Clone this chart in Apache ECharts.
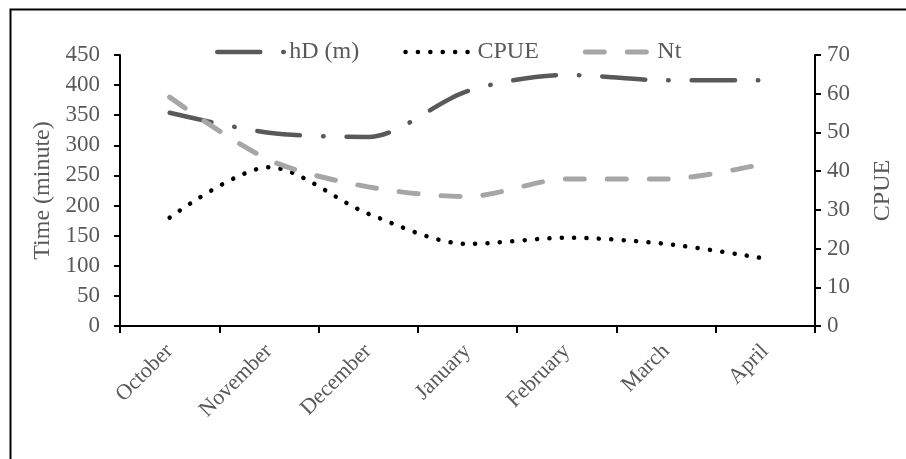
<!DOCTYPE html>
<html>
<head>
<meta charset="utf-8">
<script src="https://cdn.jsdelivr.net/npm/echarts@6/dist/echarts.min.js"></script>
<style>
html,body{margin:0;padding:0;background:#fff;}
#c{width:906px;height:459px;}
</style>
</head>
<body>
<div id="c"></div>
<script>
var months = ['October','November','December','January','February','March','April'];
var hD = [354, 321, 314, 390, 417, 408, 408];
var cpue = [28, 41, 29, 21.2, 22.8, 21.2, 17.4];
var nt = [380, 276, 231, 215, 244, 244, 270];
var leftTicks = {min: 0, max: 450, interval: 50};
var rightTicks = {min: 0, max: 70, interval: 10};

var FONT = 'Liberation Serif';
var TXT = '#595959';
var chart = echarts.init(document.getElementById('c'), null, {renderer: 'canvas'});
chart.setOption({
  animation: false,
  backgroundColor: '#fff',
  textStyle: {fontFamily: FONT},
  graphic: [{
    type: 'rect', left: 8, top: 7, z: 100, silent: true,
    shape: {x: 0, y: 0, width: 2000, height: 2000},
    style: {fill: 'none', stroke: '#000', lineWidth: 2}
  }],
  legend: {
    left: 210, top: 35, itemWidth: 67, itemHeight: 10, itemGap: 44,
    itemStyle: {opacity: 0},
    textStyle: {fontFamily: FONT, fontSize: 24, color: TXT},
    data: [
      {name: 'hD (m)', lineStyle: {width: 4.5}},
      {name: 'CPUE', lineStyle: {width: 4.5}},
      {name: 'Nt', lineStyle: {width: 5}}
    ]
  },
  grid: {left: 120, right: 91, top: 55, bottom: 133},
  xAxis: {
    type: 'category', data: months, boundaryGap: true,
    axisLine: {lineStyle: {color: '#000', width: 2}},
    axisTick: {show: true, length: 7, lineStyle: {color: '#000', width: 2}},
    axisLabel: {rotate: 45, margin: 22, fontFamily: FONT, fontSize: 22, color: TXT, interval: 0},
    splitLine: {show: false}
  },
  yAxis: [{
    type: 'value', min: leftTicks.min, max: leftTicks.max, interval: leftTicks.interval,
    name: 'Time (minute)', nameLocation: 'middle', nameRotate: 90, nameGap: 65,
    nameTextStyle: {fontFamily: FONT, fontSize: 24, color: TXT},
    axisLine: {show: true, lineStyle: {color: '#000', width: 2}},
    axisTick: {show: true, length: 6, lineStyle: {color: '#000', width: 2}},
    axisLabel: {margin: 20, fontFamily: FONT, fontSize: 23, color: TXT},
    splitLine: {show: false}
  }, {
    type: 'value', position: 'right', min: rightTicks.min, max: rightTicks.max, interval: rightTicks.interval,
    name: 'CPUE', nameLocation: 'middle', nameRotate: 90, nameGap: 56,
    nameTextStyle: {fontFamily: FONT, fontSize: 24, color: TXT},
    axisLine: {show: true, lineStyle: {color: '#000', width: 2}},
    axisTick: {show: true, length: 6, lineStyle: {color: '#000', width: 2}},
    axisLabel: {margin: 12, fontFamily: FONT, fontSize: 23, color: TXT},
    splitLine: {show: false}
  }],
  series: [{
    name: 'hD (m)', type: 'line', yAxisIndex: 0, data: hD, smooth: 0.3,
    symbol: 'none', color: '#595959',
    lineStyle: {color: '#595959', width: 4.5, type: [43, 23, 0.5, 23], cap: 'round'}
  }, {
    name: 'CPUE', type: 'line', yAxisIndex: 1, data: cpue, smooth: 0.3,
    symbol: 'none', color: '#000',
    lineStyle: {color: '#000', width: 4.5, type: [0.1, 12.3], cap: 'round'}
  }, {
    name: 'Nt', type: 'line', yAxisIndex: 0, data: nt, smooth: 0.3,
    symbol: 'none', color: '#a6a6a6',
    lineStyle: {color: '#a6a6a6', width: 5, type: [19, 23], cap: 'round'}
  }]
});
</script>
</body>
</html>
